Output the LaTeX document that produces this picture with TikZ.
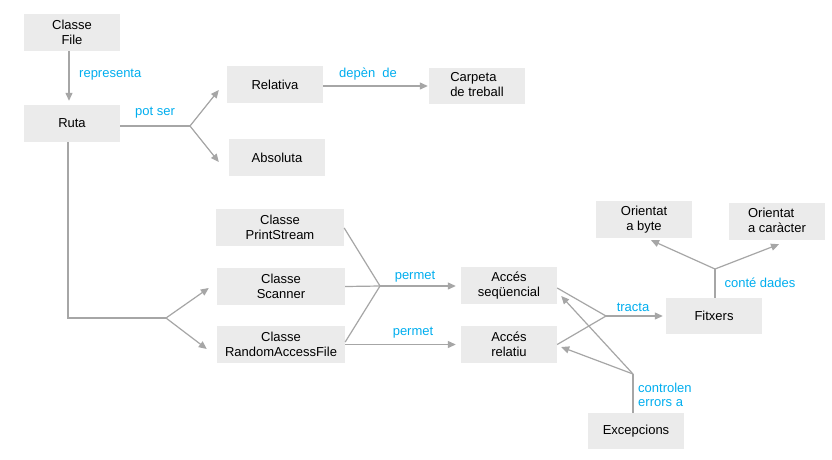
\documentclass[tikz,border=0pt]{standalone}
\usepackage{fontspec}
\setmainfont{Liberation Sans}
\usetikzlibrary{arrows.meta}
\definecolor{boxgray}{HTML}{EBEBEB}
\definecolor{linegray}{HTML}{A6A6A6}
\definecolor{lblue}{HTML}{00AEEF}
\begin{document}
\begin{tikzpicture}[x=1pt,y=-1pt,
  box/.style={fill=boxgray, draw=none, inner sep=0pt, minimum width=96pt, minimum height=37pt, align=center, font=\fontsize{13}{15}\selectfont},
  wbox/.style={box, minimum width=128pt},
  lbl/.style={text=lblue, inner sep=0pt, font=\fontsize{13}{14}\selectfont},
  conn/.style={draw=linegray, line width=1.2pt},
  arr/.style={conn, -{Triangle[length=8pt,width=7pt]}}]
\useasboundingbox[fill=white] (0,0) rectangle (832,459);

\node[box] (file) at (72,32.5) {Classe\\File};
\node[box] (ruta) at (72,123.5) {Ruta};
\node[box] (rel) at (275,84.5) {Relativa};
\node[box] (abs) at (277,157.5) {Absoluta};
\node[box, minimum height=36pt] (carp) at (477,86) {\begin{tabular}{@{}l@{}}Carpeta\\de treball\end{tabular}};
\node[wbox] (ps) at (280,227.5) {Classe\\PrintStream};
\node[wbox] (sc) at (281,286.5) {Classe\\Scanner};
\node[wbox] (raf) at (281,344.5) {Classe\\RandomAccessFile};
\node[box] (seq) at (509,285.5) {Accés\\seqüencial};
\node[box] (relat) at (509,344.5) {Accés\\relatiu};
\node[box, minimum height=36pt] (fit) at (714,316) {Fitxers};
\node[box] (byte) at (644,219.5) {Orientat\\a byte};
\node[box] (car) at (777,221.5) {\begin{tabular}{@{}l@{}}Orientat\\a caràcter\end{tabular}};
\node[box, minimum height=36pt] (exc) at (636,431) {Excepcions};

\coordinate (j1) at (190,126);
\coordinate (j2) at (68,318);
\coordinate (j3) at (166,318);
\coordinate (j4) at (380,286);
\coordinate (j5) at (606,316);
\coordinate (j6) at (633,374);
\coordinate (j7) at (715,269);

% File -> Ruta
\draw[arr] ([xshift=-3pt]file.south) -- ([shift={(-3,-4)}]ruta.north);
\node[lbl, anchor=west] (lrep) at (79,75) {representa};

% Ruta -> Relativa / Absoluta
\draw[conn] ([shift={(0,2.5)}]ruta.east) -- (j1);
\draw[arr] (j1) -- ([shift={(-8,5.5)}]rel.west);
\draw[arr] (j1) -- ([shift={(-10,4.5)}]abs.west);
\node[lbl] (lpot) at (155,113) {pot ser};

% Relativa -> Carpeta
\draw[arr] ([shift={(0,1.5)}]rel.east) -- ([xshift=-1pt]carp.west);
\node[lbl] (ldep) at (368,74) {depèn\ \ de};

% Ruta -> Scanner / RandomAccessFile
\draw[conn] ([xshift=-4pt]ruta.south) -- (j2) -- (j3);
\draw[arr] (j3) -- ([shift={(-8,1.5)}]sc.west);
\draw[arr] (j3) -- ([shift={(-10,4.5)}]raf.west);

% Classes -> Accés seqüencial
\draw[conn] ([shift={(0,0.5)}]ps.east) -- (j4);
\draw[conn] (sc.east) -- (j4);
\draw[conn] ([shift={(0,-2.5)}]raf.east) -- (j4);
\draw[arr] (j4) -- ([shift={(-5,0.5)}]seq.west);
\node[lbl] (lperm1) at (415,277) {permet};

% RandomAccessFile -> Accés relatiu
\draw[arr] (raf.east) -- ([xshift=-5pt]relat.west);
\node[lbl] (lperm2) at (413,333) {permet};

% Accés -> Fitxers
\draw[conn] ([shift={(0,2.5)}]seq.east) -- (j5);
\draw[conn] (relat.east) -- (j5);
\draw[arr] (j5) -- ([xshift=-3pt]fit.west);
\node[lbl] (ltra) at (633,307) {tracta};

% Excepcions -> Accés
\draw[conn] ([xshift=-3pt]exc.north) -- (j6);
\draw[arr] (j6) -- ([shift={(4,10.5)}]seq.east);
\draw[arr] (j6) -- ([shift={(4,2.5)}]relat.east);
\node[lbl, anchor=west, align=left] (lctl) at (638,394.5) {controlen\\errors a};

% Fitxers -> Orientat
\draw[conn] ([xshift=1pt]fit.north) -- (j7);
\draw[arr] (j7) -- ([shift={(7,2)}]byte.south);
\draw[arr] (j7) -- ([shift={(2,4)}]car.south);
\node[lbl] (lcont) at (760,283) {conté dades};
\end{tikzpicture}
\end{document}
